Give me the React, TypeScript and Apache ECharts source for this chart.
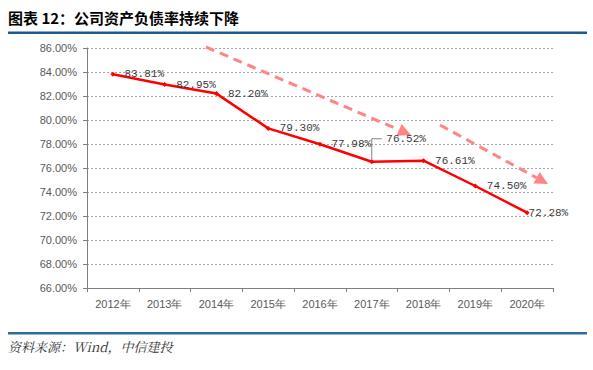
import React, { useEffect, useRef } from "react";
import * as echarts from "echarts";

const title = "图表 12：公司资产负债率持续下降";
const source = "资料来源：Wind，中信建投";
const categories = ["2012年", "2013年", "2014年", "2015年", "2016年", "2017年", "2018年", "2019年", "2020年"];
const values = [83.81, 82.95, 82.2, 79.3, 77.98, 76.52, 76.61, 74.5, 72.28];
const yMin = 66;
const yMax = 86;
const yStep = 2;

function arrow(x1: number, y1: number, x2: number, y2: number, color: string) {
  const dx = x2 - x1;
  const dy = y2 - y1;
  const len = Math.sqrt(dx * dx + dy * dy);
  const ux = dx / len;
  const uy = dy / len;
  const headL = 13;
  const headW = 6.5;
  const bx = x2 - ux * headL;
  const by = y2 - uy * headL;
  return [
    {
      type: "line",
      shape: { x1, y1, x2: bx, y2: by },
      style: { stroke: color, lineWidth: 3, lineDash: [9, 6] },
      silent: true,
    },
    {
      type: "polygon",
      shape: {
        points: [
          [x2, y2],
          [bx - uy * headW, by + ux * headW],
          [bx + uy * headW, by - ux * headW],
        ],
      },
      style: { fill: color },
      silent: true,
    },
  ];
}

export default function App() {
  const ref = useRef<HTMLDivElement>(null);
  useEffect(() => {
    if (!ref.current) return;
    const chart = echarts.init(ref.current, undefined, { renderer: "svg" });
    const labelFont = "'Liberation Mono', 'DejaVu Sans Mono', monospace";
    const data = values.map((v, i) => {
      if (i === 5) {
        return { value: v, label: { offset: [3, -23] } };
      }
      if (i === 8) {
        return { value: v, label: { offset: [-10, 0] } };
      }
      return { value: v };
    });
    const arrowColor = "#ff8585";
    chart.setOption({
      animation: false,
      backgroundColor: "#ffffff",
      grid: { left: 87, right: 40, top: 48, bottom: 82 },
      xAxis: {
        type: "category",
        data: categories,
        boundaryGap: true,
        axisLine: { lineStyle: { color: "#7f7f7f", width: 1 } },
        axisTick: { show: true, length: 4, inside: false, lineStyle: { color: "#7f7f7f" } },
        axisLabel: { color: "#595959", fontSize: 11, fontFamily: "Arial, 'Liberation Sans', sans-serif", margin: 10 },
        splitLine: { show: false },
      },
      yAxis: {
        type: "value",
        min: yMin,
        max: yMax,
        interval: yStep,
        axisLine: { show: true, lineStyle: { color: "#7f7f7f", width: 1 } },
        axisTick: { show: true, length: 4, lineStyle: { color: "#7f7f7f" } },
        axisLabel: {
          color: "#595959",
          fontSize: 11,
          fontFamily: "Arial, 'Liberation Sans', sans-serif",
          margin: 10,
          formatter: (v: number) => v.toFixed(2) + "%",
        },
        splitLine: { show: true, lineStyle: { color: "#a6a6a6", type: [2, 2], width: 1 } },
      },
      series: [
        {
          type: "line",
          data,
          lineStyle: { color: "#ff0000", width: 2.5 },
          itemStyle: { color: "#ff0000" },
          symbol: "diamond",
          symbolSize: 5,
          label: {
            show: true,
            position: "right",
            distance: 9,
            color: "#3a3a3a",
            fontSize: 11,
            fontFamily: labelFont,
            formatter: (p: any) => Number(p.value).toFixed(2) + "%",
          },
          z: 3,
        },
      ],
    });
    const p = chart.convertToPixel({ seriesIndex: 0 }, [5, values[5]]) as number[];
    const leader = {
      type: "polyline",
      shape: { points: [[p[0], p[1] - 2], [p[0], p[1] - 23], [p[0] + 10, p[1] - 23]] },
      style: { stroke: "#808080", lineWidth: 1, fill: null },
      silent: true,
    };
    chart.setOption({
      graphic: [
        {
          type: "text",
          left: 8,
          top: 10,
          style: { text: title, fontSize: 15, fontWeight: "bold", fill: "#000000", fontFamily: "'Noto Sans CJK SC', sans-serif" },
        },
        { type: "rect", shape: { x: 8, y: 31.5, width: 579, height: 2.5 }, style: { fill: "#1f5a8c" }, silent: true },
        { type: "rect", shape: { x: 8, y: 332, width: 579, height: 2.5 }, style: { fill: "#2f6e9a" }, silent: true },
        {
          type: "text",
          left: 8,
          top: 340,
          style: { text: source, fontSize: 13, fontStyle: "italic", fill: "#333333", fontFamily: "'Noto Serif CJK SC', 'Noto Sans CJK SC', serif" },
        },
        leader,
        ...arrow(206, 47, 411, 135, arrowColor),
        ...arrow(440, 125, 548, 184, arrowColor),
      ],
    });
    return () => chart.dispose();
  }, []);
  return <div ref={ref} style={{ position: "absolute", left: 0, top: 0, width: 593, height: 370 }} />;
}
